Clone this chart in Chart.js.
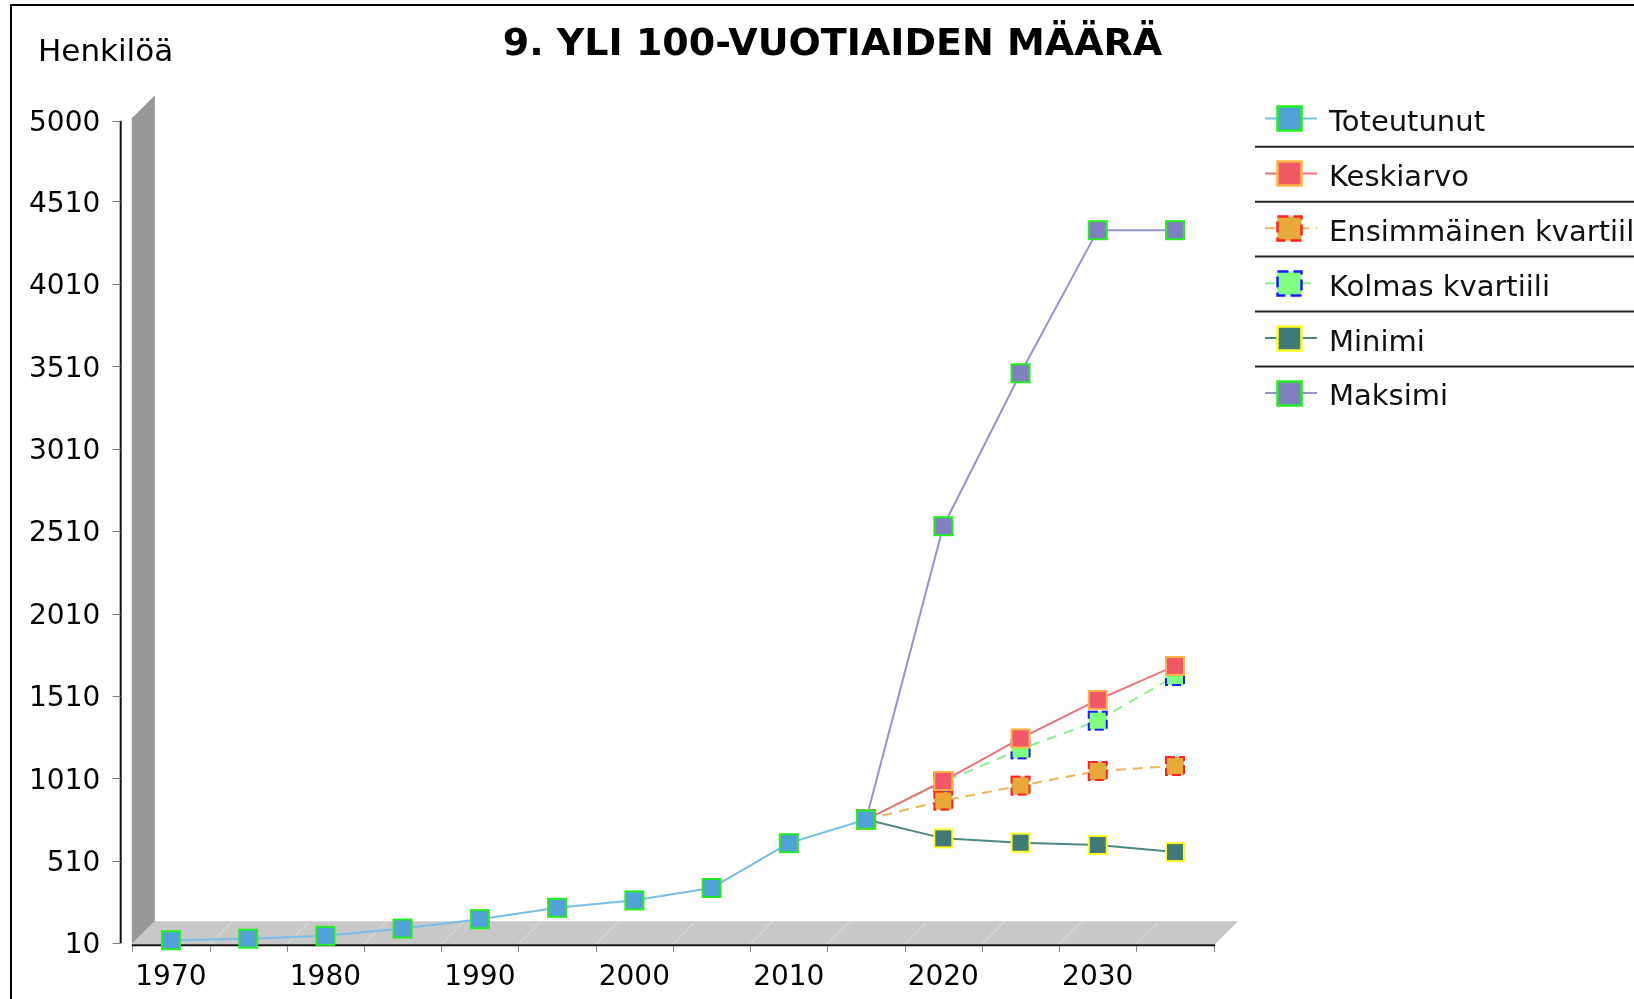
<!DOCTYPE html>
<html><head><meta charset="utf-8">
<script src="https://cdn.jsdelivr.net/npm/chart.js@4"></script>
<style>html,body{margin:0;padding:0;background:#fff;overflow:hidden}canvas{display:block}</style>
</head><body>
<canvas id="c" width="1634" height="999"></canvas>
<script>
const categories = ['1970','1975','1980','1985','1990','1995','2000','2005','2010','2015','2020','2025','2030','2035'];
const toteutunut  = [28, 37, 55, 99, 156, 225, 270, 345, 617, 760, null, null, null, null];
const keskiarvo   = [null, null, null, null, null, null, null, null, null, 760, 994, 1253, 1486, 1692];
const ensimmainen = [null, null, null, null, null, null, null, null, null, 760, 875, 966, 1055, 1085];
const kolmas      = [null, null, null, null, null, null, null, null, null, 760, 988, 1186, 1360, 1631];
const minimi      = [null, null, null, null, null, null, null, null, null, 760, 646, 620, 606, 563];
const maksimi     = [null, null, null, null, null, null, null, null, null, 760, 2540, 3468, 4336, 4336];
const yTickValues = [10, 510, 1010, 1510, 2010, 2510, 3010, 3510, 4010, 4510, 5000];
const seriesNames = ['Toteutunut', 'Keskiarvo', 'Ensimmäinen kvartiili', 'Kolmas kvartiili', 'Minimi', 'Maksimi'];
const titleText = '9. YLI 100-VUOTIAIDEN MÄÄRÄ';
const yAxisTitle = 'Henkilöä';

const styles = [
  {line:'#79bde8', fill:'#52a1d8', border:'#22ee22', dash:null, mdash:null},
  {line:'#f07080', fill:'#f05868', border:'#ffb347', dash:null, mdash:null},
  {line:'#ebb55a', fill:'#e8a83a', border:'#ff2020', dash:[10,7], mdash:[9,4]},
  {line:'#8ef08e', fill:'#80ff80', border:'#1a1aff', dash:[10,8], mdash:[9,4]},
  {line:'#4e8886', fill:'#3f7a78', border:'#ffff22', dash:null, mdash:null},
  {line:'#9494d4', fill:'#8080c0', border:'#22ee22', dash:null, mdash:null}
];
const seriesData = [toteutunut, keskiarvo, ensimmainen, kolmas, minimi, maksimi];

function marker(fill, stroke, dash, side, lw){
  const c = document.createElement('canvas');
  const n = Math.ceil(side + 2*lw + 2);
  c.width = n; c.height = n;
  const g = c.getContext('2d');
  const o = (n - side)/2;
  g.fillStyle = fill; g.fillRect(o, o, side, side);
  g.strokeStyle = stroke; g.lineWidth = lw;
  if (dash) g.setLineDash(dash);
  g.strokeRect(o, o, side, side);
  return c;
}

const datasets = seriesNames.map((name, i) => ({
  label: name,
  data: seriesData[i],
  borderColor: styles[i].line,
  backgroundColor: styles[i].fill,
  borderWidth: 2,
  borderDash: styles[i].dash || [],
  tension: 0,
  clip: false,
  pointStyle: marker(styles[i].fill, styles[i].border, styles[i].mdash, 18, 2),
  pointRadius: 10,
  pointHoverRadius: 10
}));

const FONT = 'DejaVu Sans';

const decor = {
  id: 'decor',
  beforeDraw(chart){
    const ctx = chart.ctx;
    ctx.save();
    ctx.fillStyle = '#fff';
    ctx.fillRect(0, 0, chart.width, chart.height);
    ctx.restore();
  },
  beforeDatasetsDraw(chart){
    const ctx = chart.ctx, a = chart.chartArea, ys = chart.scales.y;
    const d = 23;
    const L = a.left - 0.5, B = a.bottom + 1, R = a.right + 1.5;
    ctx.save();
    // frame
    ctx.strokeStyle = '#000'; ctx.lineWidth = 2;
    ctx.beginPath(); ctx.moveTo(11, 1010); ctx.lineTo(11, 5); ctx.lineTo(1640, 5); ctx.stroke();
    // wall
    ctx.fillStyle = '#979797';
    ctx.beginPath();
    ctx.moveTo(L, a.top - 2.5); ctx.lineTo(L + d, a.top - 2.5 - d);
    ctx.lineTo(L + d, B - d); ctx.lineTo(L, B); ctx.closePath(); ctx.fill();
    // floor
    ctx.fillStyle = '#c8c8c8';
    ctx.beginPath();
    ctx.moveTo(L, B); ctx.lineTo(L + d, B - d); ctx.lineTo(R + d, B - d); ctx.lineTo(R, B);
    ctx.closePath(); ctx.fill();
    // floor diagonals
    const n = categories.length, bw = (a.right - a.left) / n;
    ctx.strokeStyle = '#e2e2e2'; ctx.lineWidth = 1;
    for (let k = 1; k < n; k++) {
      const xb = a.left + k * bw;
      ctx.beginPath(); ctx.moveTo(xb, B); ctx.lineTo(xb + d, B - d); ctx.stroke();
    }
    // x tick marks
    ctx.strokeStyle = '#888';
    for (let k = 0; k <= n; k++) {
      const xb = Math.round(a.left + k * bw) + 0.5;
      ctx.beginPath(); ctx.moveTo(xb, B + 2); ctx.lineTo(xb, B + 8); ctx.stroke();
    }
    // x axis line
    ctx.strokeStyle = '#111'; ctx.lineWidth = 2;
    ctx.beginPath(); ctx.moveTo(L, B + 1); ctx.lineTo(R, B + 1); ctx.stroke();
    // y axis line + ticks
    const ax = a.left - 11.6;
    ctx.beginPath(); ctx.moveTo(ax, ys.getPixelForValue(5000)); ctx.lineTo(ax, ys.getPixelForValue(10)); ctx.stroke();
    ctx.strokeStyle = '#777'; ctx.lineWidth = 1;
    yTickValues.forEach(v => {
      const y = Math.round(ys.getPixelForValue(v)) + 0.5;
      ctx.beginPath(); ctx.moveTo(ax - 8, y); ctx.lineTo(ax, y); ctx.stroke();
    });
    ctx.restore();
  },
  afterDraw(chart){
    const ctx = chart.ctx;
    ctx.save();
    // title
    ctx.fillStyle = '#000';
    ctx.font = 'bold 38px "' + FONT + '"';
    ctx.textAlign = 'center'; ctx.textBaseline = 'alphabetic';
    ctx.fillText(titleText, 832.5, 55);
    // y axis title
    ctx.font = '31px "' + FONT + '"';
    ctx.textAlign = 'left';
    ctx.fillText(yAxisTitle, 38, 61);
    // legend
    const x0 = 1265, x1 = 1317, cx = 1289.5, tx = 1329;
    seriesNames.forEach((name, i) => {
      const y = 118.5 + i * 54.9;
      const st = styles[i];
      ctx.strokeStyle = st.line; ctx.lineWidth = 2;
      ctx.setLineDash(st.dash || []);
      ctx.beginPath(); ctx.moveTo(x0, y); ctx.lineTo(x1, y); ctx.stroke();
      ctx.setLineDash([]);
      const m = marker(st.fill, st.border, st.mdash ? [11,5] : null, 24, 2.5);
      ctx.drawImage(m, Math.round(cx - m.width/2), Math.round(y - m.height/2));
      ctx.fillStyle = '#111';
      ctx.font = '29px "' + FONT + '"';
      ctx.textAlign = 'left';
      ctx.fillText(name, tx, y + 12.4);
      if (i < seriesNames.length - 1) {
        ctx.strokeStyle = '#222'; ctx.lineWidth = 2;
        ctx.beginPath(); ctx.moveTo(1255, y + 28.3); ctx.lineTo(1634, y + 28.3); ctx.stroke();
      }
    });
    ctx.restore();
  }
};

new Chart(document.getElementById('c'), {
  type: 'line',
  data: { labels: categories, datasets: datasets },
  options: {
    responsive: false,
    animation: false,
    events: [],
    layout: { padding: { left: 0, right: 420.4, top: 120.7, bottom: 0 } },
    plugins: { legend: { display: false }, title: { display: false }, tooltip: { enabled: false } },
    scales: {
      x: {
        type: 'category', offset: true,
        grid: { display: false, drawTicks: false },
        border: { display: false },
        ticks: {
          autoSkip: false, maxRotation: 0, minRotation: 0, padding: 18, color: '#000',
          font: { family: FONT, size: 28 },
          callback: (v, i) => (i % 2 === 0 ? categories[i] : '')
        },
        afterFit: s => { s.height = 55.8; }
      },
      y: {
        min: 10, max: 5000,
        grid: { display: false, drawTicks: false },
        border: { display: false },
        ticks: {
          autoSkip: false, padding: 32, labelOffset: 3, color: '#000',
          font: { family: FONT, size: 28 },
          callback: v => String(v)
        },
        afterBuildTicks: s => { s.ticks = yTickValues.map(v => ({ value: v })); },
        afterFit: s => { s.width = 132.3; }
      }
    }
  },
  plugins: [decor]
});
</script>
</body></html>
